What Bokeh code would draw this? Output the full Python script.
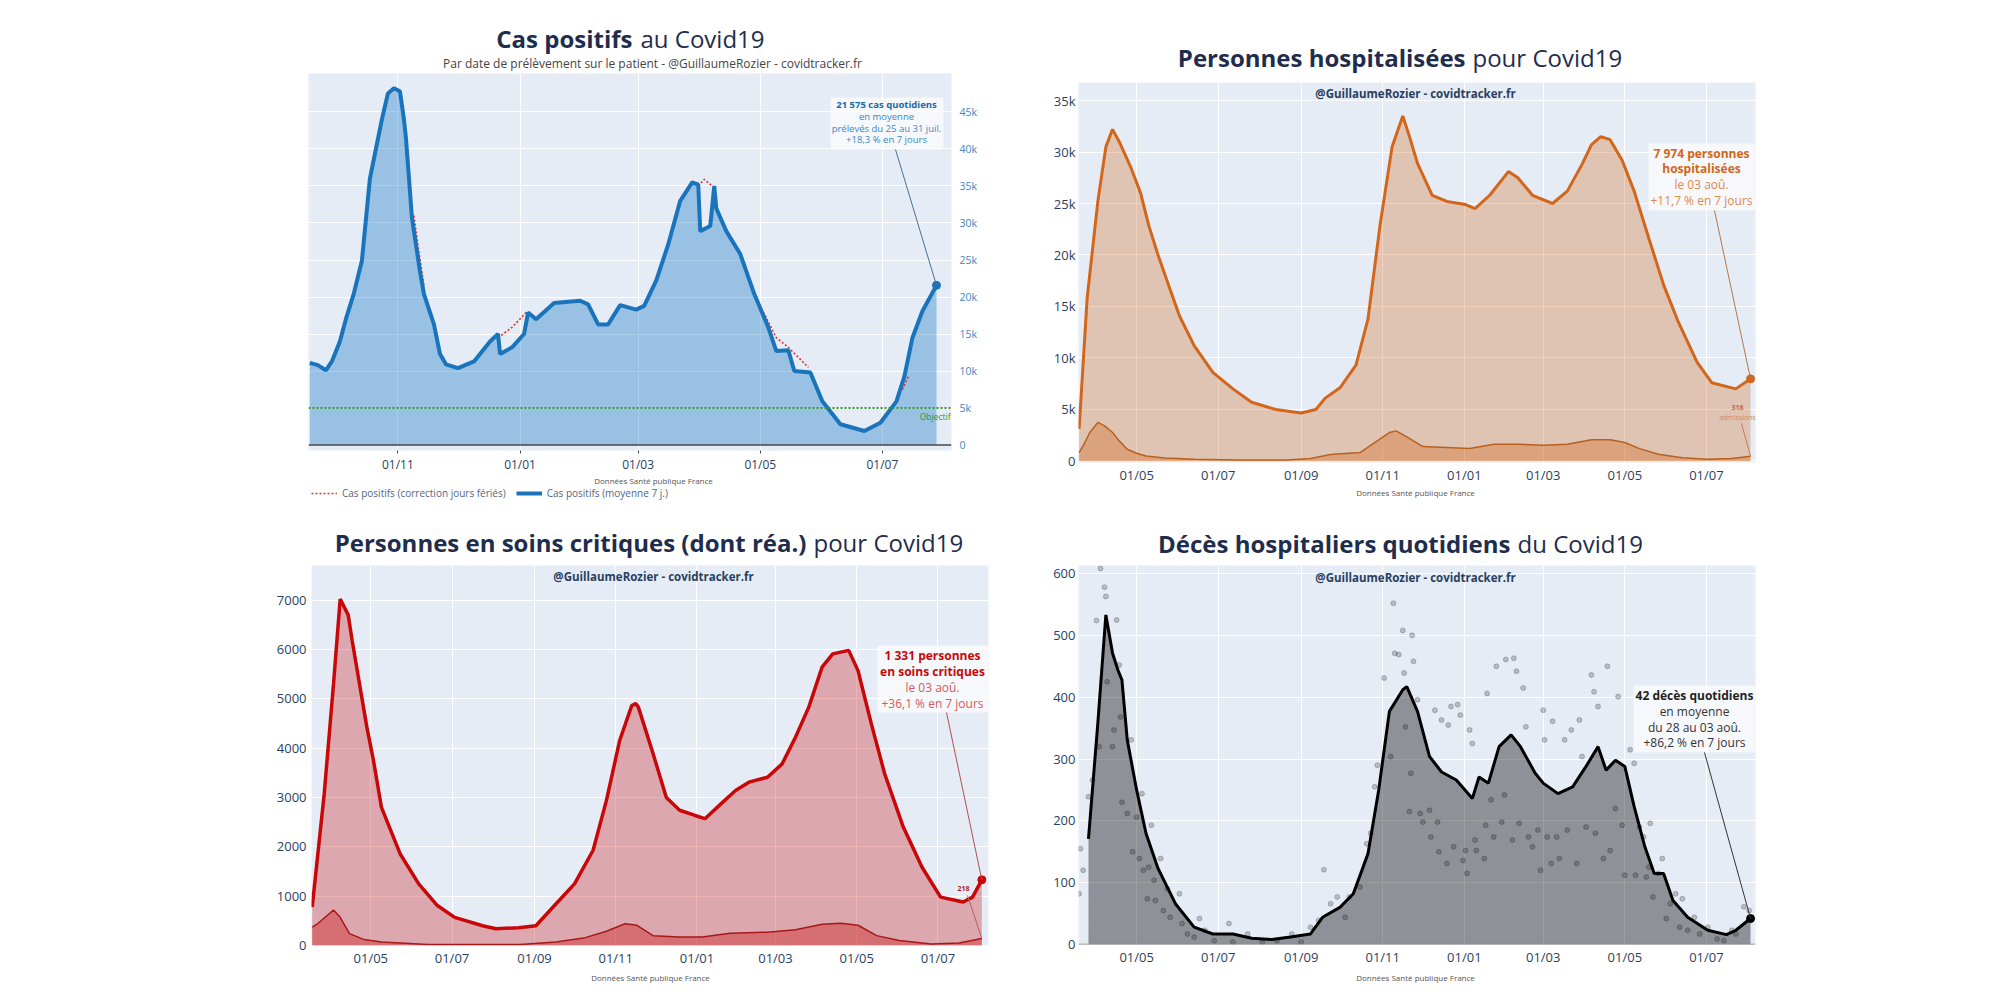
import pandas as pd
from bokeh.plotting import figure
from bokeh.layouts import column, row
from bokeh.models import (ColumnDataSource, Range1d, FixedTicker, DatetimeTickFormatter,
                          CustomJSTickFormatter, Label, Arrow, Span, BoxAnnotation,
                          Legend, LegendItem)
from bokeh.embed import file_html
from bokeh.resources import INLINE

FONT = "Open Sans"
BG = "#e5ecf6"
TITLE_C = "#1f2d4d"
TICK_C = "#2a3f5f"
NAN = float("nan")

# ---------------- DATA ----------------
# Panel 1 : cas positifs (moyenne 7 j.)
cas_pts = [("2020-09-18", 11100), ("2020-09-22", 10800), ("2020-09-26", 10100), ("2020-09-29", 11300),
           ("2020-10-03", 14000), ("2020-10-06", 17000), ("2020-10-10", 20500), ("2020-10-14", 24900),
           ("2020-10-18", 36000), ("2020-10-21", 40000), ("2020-10-24", 44000), ("2020-10-27", 47500),
           ("2020-10-30", 48200), ("2020-11-02", 47800), ("2020-11-04", 44000), ("2020-11-05", 41500),
           ("2020-11-07", 34300), ("2020-11-08", 30700), ("2020-11-12", 23500), ("2020-11-14", 20400),
           ("2020-11-19", 16300), ("2020-11-22", 12300), ("2020-11-25", 10900), ("2020-12-01", 10400),
           ("2020-12-09", 11300), ("2020-12-17", 14000), ("2020-12-21", 15000), ("2020-12-22", 12300),
           ("2020-12-28", 13200), ("2021-01-03", 15000), ("2021-01-05", 17900), ("2021-01-09", 17000),
           ("2021-01-18", 19200), ("2021-01-31", 19500), ("2021-02-04", 19000), ("2021-02-09", 16300),
           ("2021-02-14", 16300), ("2021-02-20", 18900), ("2021-02-28", 18300), ("2021-03-04", 18800),
           ("2021-03-10", 22200), ("2021-03-16", 27100), ("2021-03-22", 33000), ("2021-03-28", 35500),
           ("2021-03-31", 35200), ("2021-04-01", 28900), ("2021-04-06", 29600), ("2021-04-08", 35000),
           ("2021-04-09", 32000), ("2021-04-14", 28900), ("2021-04-21", 25800), ("2021-04-28", 20400),
           ("2021-05-05", 15900), ("2021-05-09", 12700), ("2021-05-15", 12800), ("2021-05-18", 10000),
           ("2021-05-26", 9800), ("2021-06-01", 5900), ("2021-06-10", 2800), ("2021-06-22", 1900),
           ("2021-06-30", 3000), ("2021-07-08", 5900), ("2021-07-12", 9300), ("2021-07-16", 14500),
           ("2021-07-21", 18100), ("2021-07-28", 21575)]
# Panel 1 : correction jours fériés (segments)
cas_corr = [
    [("2020-11-09", 31000), ("2020-11-11", 27000), ("2020-11-14", 21500)],
    [("2020-12-21", 14500), ("2020-12-28", 15900), ("2021-01-04", 17900)],
    [("2021-03-31", 35000), ("2021-04-03", 35900), ("2021-04-07", 35000)],
    [("2021-04-28", 20400), ("2021-05-09", 14500), ("2021-05-15", 13200), ("2021-05-25", 10500)],
    [("2021-07-11", 7500), ("2021-07-14", 9300)],
]
cas_objectif = 5000
cas_ticks = ["2020-11-01", "2021-01-01", "2021-03-01", "2021-05-01", "2021-07-01"]

# Panel 2 : hospitalisations
hosp_pts = [("2020-03-19", 3100), ("2020-03-25", 15800), ("2020-04-02", 25200), ("2020-04-08", 30500),
            ("2020-04-13", 32200), ("2020-04-18", 31000), ("2020-04-27", 28400), ("2020-05-04", 26000),
            ("2020-05-10", 22900), ("2020-05-17", 20000), ("2020-05-24", 17400), ("2020-06-02", 14100),
            ("2020-06-13", 11200), ("2020-06-27", 8600), ("2020-07-12", 7000), ("2020-07-26", 5700),
            ("2020-08-13", 5000), ("2020-09-01", 4650), ("2020-09-12", 5000), ("2020-09-19", 6100),
            ("2020-09-30", 7100), ("2020-10-12", 9300), ("2020-10-21", 13800), ("2020-10-30", 22900),
            ("2020-11-08", 30500), ("2020-11-16", 33500), ("2020-11-21", 31500), ("2020-11-27", 28900),
            ("2020-12-08", 25800), ("2020-12-19", 25200), ("2021-01-02", 24900), ("2021-01-09", 24500),
            ("2021-01-20", 25800), ("2021-02-03", 28100), ("2021-02-10", 27500), ("2021-02-21", 25800),
            ("2021-03-08", 25000), ("2021-03-19", 26200), ("2021-03-30", 28800), ("2021-04-06", 30700),
            ("2021-04-13", 31500), ("2021-04-20", 31200), ("2021-04-29", 29200), ("2021-05-08", 26200),
            ("2021-05-19", 21600), ("2021-05-30", 17100), ("2021-06-10", 13500), ("2021-06-24", 9600),
            ("2021-07-05", 7600), ("2021-07-23", 7000), ("2021-08-03", 7974)]
hosp_adm_pts = [("2020-03-19", 800), ("2020-03-22", 1460), ("2020-03-27", 2760), ("2020-04-02", 3740),
                ("2020-04-07", 3400), ("2020-04-13", 2760), ("2020-04-18", 1950), ("2020-04-24", 1140),
                ("2020-05-01", 750), ("2020-05-08", 490), ("2020-05-22", 290), ("2020-06-13", 160),
                ("2020-07-16", 100), ("2020-08-21", 100), ("2020-09-08", 230), ("2020-09-23", 620),
                ("2020-10-15", 810), ("2020-10-26", 1790), ("2020-11-06", 2760), ("2020-11-11", 2920),
                ("2020-11-20", 2270), ("2020-12-01", 1400), ("2020-12-19", 1300), ("2021-01-05", 1200),
                ("2021-01-23", 1620), ("2021-02-11", 1620), ("2021-03-01", 1530), ("2021-03-19", 1620),
                ("2021-04-06", 2050), ("2021-04-20", 2050), ("2021-05-01", 1790), ("2021-05-12", 1200),
                ("2021-05-26", 650), ("2021-06-13", 320), ("2021-07-02", 160), ("2021-07-20", 230),
                ("2021-08-03", 450)]

# Panel 3 : soins critiques
rea_pts = [("2020-03-18", 780), ("2020-03-27", 3070), ("2020-04-03", 5300), ("2020-04-08", 7020),
           ("2020-04-14", 6700), ("2020-04-17", 6180), ("2020-04-28", 4430), ("2020-05-03", 3750),
           ("2020-05-09", 2800), ("2020-05-23", 1860), ("2020-06-06", 1250), ("2020-06-20", 810),
           ("2020-07-03", 570), ("2020-07-24", 400), ("2020-08-03", 340), ("2020-08-20", 360),
           ("2020-09-02", 400), ("2020-09-17", 840), ("2020-10-01", 1250), ("2020-10-15", 1930),
           ("2020-10-25", 2940), ("2020-11-04", 4160), ("2020-11-13", 4860), ("2020-11-16", 4900),
           ("2020-11-18", 4830), ("2020-11-29", 3890), ("2020-12-09", 3000), ("2020-12-19", 2740),
           ("2020-12-30", 2640), ("2021-01-07", 2570), ("2021-01-19", 2870), ("2021-01-30", 3140),
           ("2021-02-09", 3310), ("2021-02-23", 3410), ("2021-03-06", 3680), ("2021-03-16", 4220),
           ("2021-03-26", 4830), ("2021-04-05", 5640), ("2021-04-13", 5910), ("2021-04-25", 5980),
           ("2021-05-02", 5570), ("2021-05-12", 4490), ("2021-05-22", 3480), ("2021-06-05", 2400),
           ("2021-06-19", 1590), ("2021-07-03", 980), ("2021-07-20", 880), ("2021-07-27", 980),
           ("2021-08-03", 1331)]
rea_adm_pts = [("2020-03-18", 370), ("2020-03-22", 440), ("2020-04-03", 720), ("2020-04-08", 570),
               ("2020-04-15", 240), ("2020-04-26", 120), ("2020-05-09", 70), ("2020-06-13", 20),
               ("2020-08-21", 20), ("2020-09-17", 70), ("2020-10-08", 150), ("2020-10-25", 290),
               ("2020-11-08", 440), ("2020-11-17", 410), ("2020-11-29", 200), ("2020-12-19", 170),
               ("2021-01-05", 170), ("2021-01-26", 250), ("2021-02-23", 270), ("2021-03-16", 320),
               ("2021-04-05", 430), ("2021-04-19", 450), ("2021-05-02", 410), ("2021-05-16", 200),
               ("2021-06-02", 100), ("2021-06-26", 30), ("2021-07-17", 50), ("2021-08-03", 140)]

# Panel 4 : décès hospitaliers quotidiens
dc_pts = [("2020-03-26", 171), ("2020-04-02", 358), ("2020-04-08", 533), ("2020-04-13", 471),
          ("2020-04-17", 444), ("2020-04-20", 428), ("2020-04-24", 331), ("2020-05-01", 250),
          ("2020-05-08", 180), ("2020-05-17", 123), ("2020-05-30", 66), ("2020-06-13", 28),
          ("2020-06-27", 17), ("2020-07-12", 17), ("2020-07-26", 10), ("2020-08-10", 8),
          ("2020-08-24", 12), ("2020-09-08", 17), ("2020-09-17", 44), ("2020-09-30", 60),
          ("2020-10-10", 82), ("2020-10-21", 147), ("2020-10-29", 250), ("2020-11-06", 377),
          ("2020-11-16", 412), ("2020-11-19", 417), ("2020-11-27", 377), ("2020-12-06", 304),
          ("2020-12-15", 279), ("2020-12-26", 266), ("2021-01-07", 236), ("2021-01-12", 271),
          ("2021-01-19", 261), ("2021-01-27", 320), ("2021-02-05", 339), ("2021-02-12", 320),
          ("2021-02-23", 277), ("2021-03-01", 261), ("2021-03-12", 244), ("2021-03-23", 255),
          ("2021-04-02", 288), ("2021-04-11", 320), ("2021-04-17", 282), ("2021-04-24", 298),
          ("2021-05-01", 288), ("2021-05-08", 223), ("2021-05-16", 158), ("2021-05-23", 115),
          ("2021-05-30", 115), ("2021-06-06", 71), ("2021-06-17", 44), ("2021-07-02", 23),
          ("2021-07-16", 16), ("2021-07-23", 23), ("2021-08-03", 42)]
dc_daily = [("2020-03-19", 82), ("2020-03-20", 155), ("2020-03-22", 120), ("2020-03-26", 239),
            ("2020-03-29", 266), ("2020-04-01", 524), ("2020-04-04", 608), ("2020-04-03", 320),
            ("2020-04-07", 578), ("2020-04-08", 563), ("2020-04-09", 425), ("2020-04-13", 320),
            ("2020-04-14", 347), ("2020-04-16", 525), ("2020-04-18", 452), ("2020-04-19", 368),
            ("2020-04-20", 230), ("2020-04-24", 212), ("2020-04-27", 331), ("2020-04-28", 150),
            ("2020-05-01", 206), ("2020-05-03", 139), ("2020-05-05", 244), ("2020-05-06", 120),
            ("2020-05-10", 125), ("2020-05-12", 193), ("2020-05-09", 74), ("2020-05-14", 104),
            ("2020-05-15", 71), ("2020-05-19", 139), ("2020-05-21", 55), ("2020-05-24", 90),
            ("2020-05-26", 44), ("2020-06-02", 82), ("2020-06-04", 34), ("2020-06-08", 17),
            ("2020-06-13", 12), ("2020-06-17", 42), ("2020-06-21", 23), ("2020-06-28", 6),
            ("2020-07-09", 34), ("2020-07-12", 4), ("2020-07-23", 17), ("2020-08-03", 4),
            ("2020-08-14", 6), ("2020-08-25", 17), ("2020-09-01", 4), ("2020-09-08", 28),
            ("2020-09-14", 39), ("2020-09-18", 121), ("2020-09-23", 66), ("2020-09-28", 77),
            ("2020-10-04", 44), ("2020-10-07", 77), ("2020-10-15", 93), ("2020-10-20", 163),
            ("2020-10-23", 180), ("2020-10-26", 255), ("2020-10-28", 290), ("2020-11-02", 431),
            ("2020-11-07", 304), ("2020-11-09", 552), ("2020-11-10", 471), ("2020-11-13", 469),
            ("2020-11-16", 508), ("2020-11-17", 439), ("2020-11-18", 352), ("2020-11-21", 215),
            ("2020-11-22", 277), ("2020-11-23", 500), ("2020-11-24", 458), ("2020-11-27", 396),
            ("2020-11-29", 212), ("2020-12-01", 198), ("2020-12-06", 217), ("2020-12-07", 174),
            ("2020-12-10", 379), ("2020-12-12", 198), ("2020-12-13", 150), ("2020-12-15", 363),
            ("2020-12-19", 131), ("2020-12-20", 355), ("2020-12-22", 385), ("2020-12-24", 158),
            ("2020-12-27", 388), ("2020-12-29", 371), ("2020-12-31", 136), ("2021-01-02", 152),
            ("2021-01-03", 115), ("2021-01-05", 347), ("2021-01-07", 325), ("2021-01-09", 169),
            ("2021-01-10", 152), ("2021-01-16", 139), ("2021-01-17", 193), ("2021-01-18", 406),
            ("2021-01-21", 234), ("2021-01-23", 174), ("2021-01-25", 450), ("2021-01-29", 198),
            ("2021-01-31", 242), ("2021-02-01", 461), ("2021-02-07", 463), ("2021-02-09", 442),
            ("2021-02-06", 169), ("2021-02-11", 196), ("2021-02-14", 415), ("2021-02-16", 352),
            ("2021-02-18", 174), ("2021-02-21", 158), ("2021-02-25", 185), ("2021-02-27", 120),
            ("2021-03-01", 379), ("2021-03-02", 331), ("2021-03-04", 174), ("2021-03-08", 361),
            ("2021-03-07", 131), ("2021-03-11", 174), ("2021-03-13", 139), ("2021-03-17", 331),
            ("2021-03-19", 185), ("2021-03-22", 347), ("2021-03-26", 131), ("2021-03-28", 363),
            ("2021-03-30", 304), ("2021-04-02", 190), ("2021-04-06", 436), ("2021-04-08", 409),
            ("2021-04-09", 180), ("2021-04-11", 385), ("2021-04-15", 139), ("2021-04-18", 450),
            ("2021-04-20", 152), ("2021-04-24", 220), ("2021-04-26", 401), ("2021-04-29", 193),
            ("2021-05-01", 112), ("2021-05-05", 315), ("2021-05-08", 293), ("2021-05-09", 112),
            ("2021-05-12", 190), ("2021-05-15", 174), ("2021-05-17", 109), ("2021-05-19", 125),
            ("2021-05-20", 196), ("2021-05-22", 77), ("2021-05-26", 115), ("2021-05-29", 139),
            ("2021-06-01", 42), ("2021-06-04", 66), ("2021-06-08", 82), ("2021-06-11", 28),
            ("2021-06-13", 74), ("2021-06-17", 23), ("2021-06-22", 44), ("2021-06-26", 17),
            ("2021-07-02", 28), ("2021-07-09", 9), ("2021-07-14", 6), ("2021-07-20", 23),
            ("2021-07-23", 17), ("2021-07-29", 61), ("2021-08-02", 55)]

hosp_ticks = ["2020-05-01", "2020-07-01", "2020-09-01", "2020-11-01",
              "2021-01-01", "2021-03-01", "2021-05-01", "2021-07-01"]


# ---------------- HELPERS ----------------
def ms(d):
    return pd.Timestamp(d).value / 1e6


def src(pts):
    return ColumnDataSource(dict(x=[ms(d) for d, _ in pts], y=[v for _, v in pts]))


def text_fig(ox, frame, y0, h):
    """Blank strip; its frame spans the same columns as the plot frame below/above it,
    and its data coordinates are the page pixels (y downwards)."""
    L, T, R, B = frame
    f = figure(width=1000, height=h, x_range=Range1d(L, R), y_range=Range1d(y0 + h, y0),
               x_axis_location=None, y_axis_location=None, title=None,
               output_backend="svg", toolbar_location=None,
               min_border_left=L - ox, min_border_right=ox + 1000 - R,
               min_border_top=0, min_border_bottom=0,
               outline_line_color=None, background_fill_color="white",
               border_fill_color="white")
    f.grid.visible = False
    return f


def make_fig(fig_box, frame, xr, yr, yticks, xticks, yloc="left"):
    ox, oy, fw, fh = fig_box
    L, T, R, B = frame
    p = figure(width=fw, height=fh, x_range=Range1d(ms(xr[0]), ms(xr[1])),
               y_range=Range1d(*yr), x_axis_type="datetime", y_axis_location=yloc, title=None,
               output_backend="svg", toolbar_location=None,
               background_fill_color=BG, border_fill_color="white", outline_line_color=None,
               min_border_left=L - ox, min_border_right=ox + fw - R,
               min_border_top=T - oy, min_border_bottom=oy + fh - B)
    p.xaxis.ticker = FixedTicker(ticks=[ms(t) for t in xticks])
    p.xaxis.formatter = DatetimeTickFormatter(days="%d/%m", months="%d/%m", years="%d/%m",
                                              hours="%d/%m", hourmin="%d/%m")
    p.yaxis.ticker = FixedTicker(ticks=yticks)
    for g in (p.xgrid, p.ygrid):
        g.grid_line_color = "white"
        g.grid_line_width = 1
    for ax in p.axis:
        ax.axis_line_color = None
        ax.major_tick_line_color = None
        ax.minor_tick_line_color = None
        ax.major_tick_out = 0
        ax.major_tick_in = 0
        ax.minor_tick_out = 0
        ax.major_label_text_font = FONT
        ax.major_label_text_color = TICK_C
        ax.major_label_text_font_size = "13px"
    p.xaxis.major_label_standoff = 3
    p.yaxis.major_label_standoff = 3
    return p


def lab(p, frame, px, py, text, size, color, bold=False, align="center", alpha=1.0):
    """Label inside a plot frame, given in page pixels."""
    L, T, R, B = frame
    p.add_layout(Label(x=px - L, y=B - py, x_units="screen", y_units="screen", text=text,
                       text_font=FONT, text_font_size=f"{size}px", text_color=color,
                       text_font_style="bold" if bold else "normal", text_align=align,
                       text_baseline="middle", text_alpha=alpha))


def tlab(f, px, py, text, size, color, bold=False, align="center"):
    """Label in a text strip (page pixel coordinates)."""
    f.add_layout(Label(x=px, y=py, text=text, text_font=FONT, text_font_size=f"{size}px",
                       text_color=color, text_font_style="bold" if bold else "normal",
                       text_align=align, text_baseline="middle"))


def title(f, xb, xr, y, bold_txt, reg_txt, size=24):
    tlab(f, xb, y, bold_txt, size, TITLE_C, bold=True, align="right")
    tlab(f, xr, y, reg_txt, size, TITLE_C, bold=False, align="left")


def box(p, frame, x0, x1, y0, y1):
    L, T, R, B = frame
    p.add_layout(BoxAnnotation(left=x0 - L, right=x1 - L, top=B - y0, bottom=B - y1,
                               left_units="screen", right_units="screen",
                               top_units="screen", bottom_units="screen",
                               fill_color="white", fill_alpha=0.65, line_color=None))


def pointer(p, frame, px, py, xd, yd, color, width=1):
    L, T, R, B = frame
    p.add_layout(Arrow(end=None, x_start=px - L, y_start=B - py, start_units="screen",
                       x_end=ms(xd), y_end=yd, end_units="data",
                       line_color=color, line_width=width))


kfmt = "return tick == 0 ? '0' : (tick/1000) + 'k';"
SIG = "@GuillaumeRozier - covidtracker.fr"
SRC_TXT = "Données Santé publique France"

# ---------------- PANEL 1 ----------------
F1 = (308, 73, 951, 453)
h1 = text_fig(0, F1, 0, 73)
p1 = make_fig((0, 73, 1000, 402), F1, ("2020-09-17 08:00", "2021-08-04 12:00"), (-740, 50200),
              list(range(0, 45001, 5000)), cas_ticks, yloc="right")
f1 = text_fig(0, F1, 475, 25)
p1.yaxis.formatter = CustomJSTickFormatter(code=kfmt)
p1.yaxis.major_label_text_color = "#3f86c2"
p1.yaxis.major_label_text_font_size = "10.5px"
p1.yaxis.major_label_standoff = 8
p1.xaxis.major_label_text_font_size = "12px"
p1.xaxis.major_tick_line_color = "#444444"
p1.xaxis.major_tick_out = 3
p1.xaxis.major_label_standoff = 2
s1 = src(cas_pts)
p1.varea(x="x", y1=0, y2="y", source=s1, fill_color="#0873bf", fill_alpha=0.35)
p1.add_layout(Span(location=0, dimension="width", line_color="#444444", line_width=1.5))
p1.add_layout(Span(location=cas_objectif, dimension="width", line_color="#2e9a2e",
                   line_width=2, line_dash="2 2"))
p1.multi_line(xs=[[ms(d) for d, _ in seg] for seg in cas_corr],
              ys=[[v for _, v in seg] for seg in cas_corr],
              line_color="#e0302a", line_width=1.6, line_dash="2 2")
p1.line("x", "y", source=s1, line_color="#1a74bb", line_width=4)
p1.scatter([ms(cas_pts[-1][0])], [cas_pts[-1][1]], size=8, color="#1a74bb")
title(h1, 632, 640, 38, "Cas positifs", "au Covid19")
tlab(h1, 652, 63, "Par date de prélèvement sur le patient - @GuillaumeRozier - covidtracker.fr",
     12, "#444444")
box(p1, F1, 830, 943, 100, 152)
lab(p1, F1, 886, 107, "21 575 cas quotidiens", 9.5, "#1a6aa8", bold=True)
lab(p1, F1, 886, 119, "en moyenne", 9.5, "#3b88c4")
lab(p1, F1, 886, 131, "prélevés du 25 au 31 juil.", 9.5, "#3b88c4")
lab(p1, F1, 886, 142, "+18,3 % en 7 jours", 9.5, "#3b88c4")
pointer(p1, F1, 895, 152, cas_pts[-1][0], cas_pts[-1][1], "#4d6f8c")
lab(p1, F1, 950, 419, "Objectif", 8.5, "#2e9a2e", align="right")
tlab(f1, 653, 480, SRC_TXT, 8, "#555555")
# legend proxies (no visible data, only their legend samples are drawn)
lg_r = f1.line([NAN, NAN], [NAN, NAN], line_color="#e0302a", line_width=1.6, line_dash="2 2")
lg_b = f1.line([NAN, NAN], [NAN, NAN], line_color="#1a74bb", line_width=4)
leg = Legend(items=[LegendItem(label="Cas positifs (correction jours fériés)", renderers=[lg_r]),
                    LegendItem(label="Cas positifs (moyenne 7 j.)", renderers=[lg_b])],
             orientation="horizontal", location=(3, 0), padding=0, margin=0,
             spacing=10, glyph_width=26, glyph_height=12, label_height=12, label_standoff=5,
             label_text_font=FONT, label_text_font_size="10px", label_text_color="#506784",
             border_line_color=None, background_fill_alpha=0)
f1.add_layout(leg)

# ---------------- PANEL 2 ----------------
F2 = (1078, 82, 1755, 462)
ORANGE = "#d2661a"
h2 = text_fig(1000, F2, 0, 82)
p2 = make_fig((1000, 82, 1000, 404), F2, ("2020-03-18 13:00", "2021-08-06 17:00"), (-150, 36750),
              list(range(0, 35001, 5000)), hosp_ticks)
f2 = text_fig(1000, F2, 486, 14)
p2.yaxis.formatter = CustomJSTickFormatter(code=kfmt)
s2 = src(hosp_pts)
p2.varea(x="x", y1=0, y2="y", source=s2, fill_color=ORANGE, fill_alpha=0.3)
s2b = src(hosp_adm_pts)
p2.varea(x="x", y1=0, y2="y", source=s2b, fill_color=ORANGE, fill_alpha=0.35)
p2.line("x", "y", source=s2b, line_color="#b8601f", line_width=1.5)
p2.line("x", "y", source=s2, line_color=ORANGE, line_width=3)
p2.scatter([ms(hosp_pts[-1][0])], [hosp_pts[-1][1]], size=8, color=ORANGE)
title(h2, 1465, 1472, 57, "Personnes hospitalisées", "pour Covid19")
lab(p2, F2, 1415, 93, SIG, 11.5, "#2a3f5f", bold=True)
box(p2, F2, 1648, 1755, 143, 210)
lab(p2, F2, 1701, 153, "7 974 personnes", 12, ORANGE, bold=True)
lab(p2, F2, 1701, 168, "hospitalisées", 12, ORANGE, bold=True)
lab(p2, F2, 1701, 184, "le 03 aoû.", 12, "#e08a4c")
lab(p2, F2, 1701, 200, "+11,7 % en 7 jours", 12, "#e08a4c")
pointer(p2, F2, 1714, 210, hosp_pts[-1][0], hosp_pts[-1][1], "#b07850")
lab(p2, F2, 1737, 407, "318", 7, "#c0703a", bold=True)
lab(p2, F2, 1737, 417, "admissions", 7, "#d08a5a")
pointer(p2, F2, 1741, 423, hosp_adm_pts[-1][0], hosp_adm_pts[-1][1], "#c0805a")
tlab(f2, 1415, 492, SRC_TXT, 8, "#555555")

# ---------------- PANEL 3 ----------------
F3 = (311, 565, 988, 945)
RED = "#c80808"
h3 = text_fig(0, F3, 500, 65)
p3 = make_fig((0, 565, 1000, 404), F3, ("2020-03-17 11:00", "2021-08-08 00:00"), (0, 7700),
              list(range(0, 7001, 1000)), hosp_ticks)
f3 = text_fig(0, F3, 969, 31)
p3.yaxis.major_label_standoff = 5
s3 = src(rea_pts)
p3.varea(x="x", y1=0, y2="y", source=s3, fill_color=RED, fill_alpha=0.3)
s3b = src(rea_adm_pts)
p3.varea(x="x", y1=0, y2="y", source=s3b, fill_color=RED, fill_alpha=0.35)
p3.line("x", "y", source=s3b, line_color="#a81818", line_width=1.5)
p3.line("x", "y", source=s3, line_color=RED, line_width=3.5)
p3.scatter([ms(rea_pts[-1][0])], [rea_pts[-1][1]], size=8, color=RED)
title(h3, 806, 813, 542, "Personnes en soins critiques (dont réa.)", "pour Covid19")
lab(p3, F3, 653, 576, SIG, 11.5, "#2a3f5f", bold=True)
box(p3, F3, 877, 988, 645, 712)
lab(p3, F3, 932, 655, "1 331 personnes", 12, RED, bold=True)
lab(p3, F3, 932, 671, "en soins critiques", 12, RED, bold=True)
lab(p3, F3, 932, 687, "le 03 aoû.", 12, "#d85a5a")
lab(p3, F3, 932, 703, "+36,1 % en 7 jours", 12, "#d85a5a")
pointer(p3, F3, 946, 712, rea_pts[-1][0], rea_pts[-1][1], "#b05050")
lab(p3, F3, 963, 888, "218", 7, "#b82020", bold=True)
pointer(p3, F3, 967, 895, rea_adm_pts[-1][0], rea_adm_pts[-1][1], "#b06060")
tlab(f3, 650, 977, SRC_TXT, 8, "#555555")

# ---------------- PANEL 4 ----------------
F4 = (1078, 565, 1755, 944)
h4 = text_fig(1000, F4, 500, 65)
p4 = make_fig((1000, 565, 1000, 404), F4, ("2020-03-18 13:00", "2021-08-06 17:00"), (0, 613),
              list(range(0, 601, 100)), hosp_ticks)
f4 = text_fig(1000, F4, 969, 31)
s4 = src(dc_pts)
p4.varea(x="x", y1=0, y2="y", source=s4, fill_color="black", fill_alpha=0.38)
p4.add_layout(Span(location=0, dimension="width", line_color="#888888", line_width=1.5))
s4d = src(dc_daily)
p4.scatter("x", "y", source=s4d, size=5, color="black", alpha=0.2)
p4.line("x", "y", source=s4, line_color="black", line_width=3)
p4.scatter([ms(dc_pts[-1][0])], [dc_pts[-1][1]], size=8, color="black")
title(h4, 1510, 1517, 543, "Décès hospitaliers quotidiens", "du Covid19")
lab(p4, F4, 1415, 577, SIG, 11.5, "#2a3f5f", bold=True)
box(p4, F4, 1633, 1755, 685, 752)
lab(p4, F4, 1694, 695, "42 décès quotidiens", 12, "#222222", bold=True)
lab(p4, F4, 1694, 711, "en moyenne", 12, "#333333")
lab(p4, F4, 1694, 727, "du 28 au 03 aoû.", 12, "#333333")
lab(p4, F4, 1694, 742, "+86,2 % en 7 jours", 12, "#333333")
pointer(p4, F4, 1704, 752, dc_pts[-1][0], dc_pts[-1][1], "#333333")
tlab(f4, 1415, 977, SRC_TXT, 8, "#555555")

layout = column(row(column(h1, p1, f1), column(h2, p2, f2)),
                row(column(h3, p3, f3), column(h4, p4, f4)))
open("out.html", "w").write(file_html(layout, INLINE))
